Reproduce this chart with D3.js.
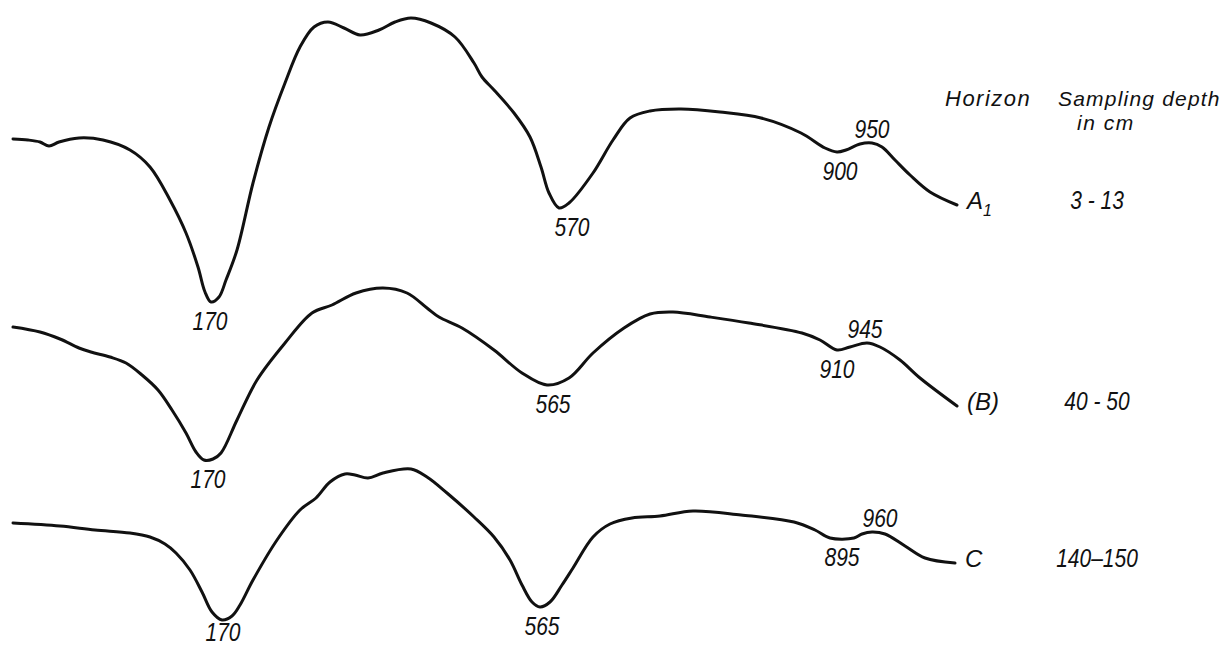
<!DOCTYPE html>
<html>
<head>
<meta charset="utf-8">
<script src="https://cdn.jsdelivr.net/npm/d3@7"></script>
<style>
  html, body { margin: 0; padding: 0; background: #fff; }
  svg { display: block; }
  text { font-family: "Liberation Sans", Arial, sans-serif; font-style: italic; fill: #111; }
</style>
</head>
<body>
<svg id="chart" width="1231" height="647"></svg>
<script>
// ---- Data (recording time in arbitrary minutes, deflection in arbitrary units) ----
const horizons = ["A", "(B)", "C"];
const horizonSubs = ["1", "", ""];
const depths = ["3 - 13", "40 - 50", "140–150"];
const traceOffsets = [0, -18.8, -38.4];

const timeA = [0,1.5,2.7,3.6,4.6,6.6,9.0,11.7,13.7,15.7,17.3,18.5,19.2,19.8,20.6,21.3,22.4,24.0,25.6,27.2,28.7,30.1,31.5,33.1,34.7,36.6,38.2,39.8,41.8,44.2,46.1,46.9,48.1,50.1,51.7,52.8,53.6,54.6,55.6,58.0,60.0,61.7,63.7,66.8,70.7,74.8,78.8,81.2,82.4,83.3,84.7,85.9,86.9,88.2,89.7,91.7,94.4];
const defA  = [0,-0.1,-0.3,-0.7,-0.3,0.1,-0.1,-1.1,-2.8,-6.1,-9.4,-12.8,-15.3,-16.3,-15.8,-14.1,-11.1,-4.4,1.2,5.6,9.2,11.2,11.7,11.1,10.4,10.9,11.7,12.1,11.6,10.2,7.6,6.2,4.9,2.6,0.2,-2.8,-5.4,-6.9,-6.4,-3.4,-0.1,2.1,2.8,3.0,2.7,2.1,0.6,-0.9,-1.3,-1.1,-0.5,-0.4,-0.8,-2.1,-3.6,-5.3,-6.6];

const timeB = [0,2.7,4.7,6.6,7.8,9.7,11.3,12.9,14.5,15.9,17.3,18.3,19.1,20.0,20.8,22.4,24.4,27.2,29.9,31.9,34.3,37.0,39.4,41.4,42.6,44.9,48.1,50.9,53.4,55.6,58.0,61.1,63.7,66.0,69.7,73.6,78.9,80.7,82.4,83.7,85.4,86.7,88.7,90.7,94.4];
const defB  = [0,-0.5,-1.2,-2.1,-2.5,-3.0,-3.6,-4.8,-6.3,-8.3,-10.6,-12.5,-13.3,-13.2,-12.6,-9.3,-5.3,-1.6,1.4,2.2,3.4,3.9,3.4,1.9,1.0,-0.1,-2.3,-4.6,-5.8,-5.1,-2.6,-0.1,1.3,1.5,1.0,0.4,-0.6,-1.3,-2.3,-2.0,-1.6,-2.0,-3.3,-5.1,-7.9];

const timeC = [0,4.7,8.2,11.7,13.7,15.2,16.3,17.7,18.9,19.9,20.9,21.9,22.7,24.0,26.4,28.7,30.3,31.7,33.2,34.2,35.5,37.0,39.8,41.4,43.4,46.1,48.1,49.7,50.9,51.9,52.7,53.7,54.9,56.0,58.0,59.7,61.9,64.7,68.0,72.8,78.1,80.2,81.7,84.1,84.9,85.9,87.2,89.2,91.2,94.2];
const defC  = [0,-0.3,-0.7,-1.0,-1.4,-2.1,-3.0,-4.7,-6.9,-8.9,-9.7,-9.3,-8.2,-5.7,-1.7,1.3,2.5,4.1,4.9,4.8,4.5,5.0,5.4,4.6,3.0,0.6,-1.4,-3.7,-6.2,-7.9,-8.4,-7.9,-6.2,-4.5,-1.4,-0.1,0.5,0.7,1.2,0.8,0.1,-0.7,-1.5,-1.5,-1.1,-0.9,-1.1,-2.3,-3.5,-4.0];

const labelsA = ["170","570","900","950"];
const labelTimesA = [19.7,55.9,82.7,85.9];
const labelsB = ["170","565","910","945"];
const labelTimesB = [19.5,54.0,82.4,85.2];
const labelsC = ["170","565","895","960"];
const labelTimesC = [21.0,52.9,82.9,86.7];
const labelSides = ["below","below","below","above"];

const headerHorizon = "Horizon";
const headerDepth = ["Sampling depth", "in cm"];

// ---- Build ----
const W = 1231, H = 647;
const NARROW = 0.84;
const svg = d3.select("#chart");
const x = d3.scaleLinear().domain([0, 95]).range([13, 963]);
const y = d3.scaleLinear().domain([0, -10]).range([139, 239]);

const traces = [
  {t: timeA, d: defA, labels: labelsA, lt: labelTimesA},
  {t: timeB, d: defB, labels: labelsB, lt: labelTimesB},
  {t: timeC, d: defC, labels: labelsC, lt: labelTimesC}
];

const line = d3.line()
  .x(p => x(p[0]))
  .y(p => y(p[1]))
  .curve(d3.curveCatmullRom.alpha(0.5));

function narrowText(px, py, str, size, anchor) {
  return svg.append("text")
    .attr("transform", `translate(${px},${py}) scale(${NARROW},1)`)
    .attr("text-anchor", anchor || "middle")
    .attr("font-size", size)
    .text(str);
}

traces.forEach((tr, i) => {
  const off = traceOffsets[i];
  const pts = tr.t.map((t, k) => [t, tr.d[k] + off]);
  svg.append("path")
    .attr("d", line(pts))
    .attr("fill", "none")
    .attr("stroke", "#111")
    .attr("stroke-width", 3)
    .attr("stroke-linejoin", "round")
    .attr("stroke-linecap", "round");

  // peak labels
  tr.labels.forEach((lab, j) => {
    const lt = tr.lt[j];
    const win = pts.filter(p => Math.abs(p[0] - lt) <= 2.5).map(p => p[1]);
    const side = labelSides[j];
    const v = side === "below" ? d3.min(win) : d3.max(win);
    let base = y(v) + (side === "below" ? 28 : -5);
    base = Math.min(base, H - 6);
    narrowText(x(lt), base, lab, 25, "middle");
  });

  // horizon and depth at the trace end
  const last = pts[pts.length - 1];
  const ly = y(last[1]) + 4;
  const ht = svg.append("text")
    .attr("x", x(last[0]) + 10)
    .attr("y", ly)
    .attr("font-size", 24)
    .text(horizons[i]);
  if (horizonSubs[i]) {
    ht.append("tspan").attr("dy", 7).attr("font-size", 16).text(horizonSubs[i]);
  }
  narrowText(1097, ly, depths[i], 25, "middle");
});

// headers
svg.append("text").attr("x", 945).attr("y", 106)
  .attr("font-size", 22).attr("letter-spacing", 1.5).text(headerHorizon);
svg.append("text").attr("x", 1058).attr("y", 106)
  .attr("font-size", 21).attr("letter-spacing", 1.2).text(headerDepth[0]);
svg.append("text").attr("x", 1077).attr("y", 130)
  .attr("font-size", 21).attr("letter-spacing", 1.5).text(headerDepth[1]);
</script>
</body>
</html>
